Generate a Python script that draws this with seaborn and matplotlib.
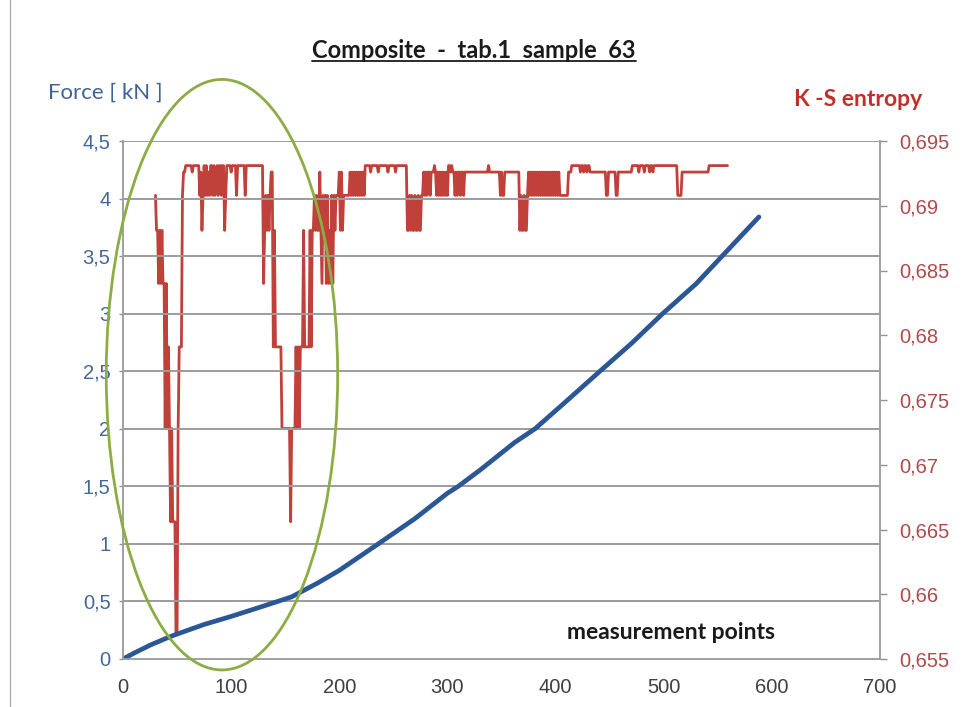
import numpy as np
import pandas as pd
import matplotlib
matplotlib.use("Agg")
import matplotlib.pyplot as plt
from matplotlib.patches import Ellipse
from matplotlib.lines import Line2D
import seaborn as sns

# ---------------- data ----------------
title = "Composite  -  tab.1  sample  63"
force_label = "Force [ kN ]"
entropy_label = "K -S entropy"
xlabel_text = "measurement points"

x_ticks = [0, 100, 200, 300, 400, 500, 600, 700]
force_ticks = [0, 0.5, 1, 1.5, 2, 2.5, 3, 3.5, 4, 4.5]
force_tick_labels = ["0", "0,5", "1", "1,5", "2", "2,5", "3", "3,5", "4", "4,5"]
entropy_ticks = [0.655, 0.66, 0.665, 0.67, 0.675, 0.68, 0.685, 0.69, 0.695]
entropy_tick_labels = ["0,655", "0,66", "0,665", "0,67", "0,675", "0,68", "0,685", "0,69", "0,695"]

# Force curve (measurement point, kN)
force_x = [0, 10, 25, 40, 48, 75, 100, 130, 156, 164, 180, 200, 236, 270, 300, 310,
           330, 362, 381, 410, 441, 470, 499, 530, 554, 588]
force_y = [0, 0.05, 0.12, 0.18, 0.21, 0.30, 0.37, 0.46, 0.54, 0.58, 0.66, 0.77, 1.0, 1.22,
           1.44, 1.50, 1.64, 1.88, 2.0, 2.24, 2.5, 2.74, 3.0, 3.26, 3.5, 3.84]

# K-S entropy: discrete levels and the run-length sequence
ks_start = 30
ks_level_values = {"H": 0.6931, "h": 0.6926, "B": 0.6908, "M": 0.6881,
                   "L1": 0.6840, "L2": 0.6791, "L3": 0.6728, "L4": 0.6656, "L5": 0.6569}

def alt(a, b, n):
    out = []
    for i in range(n):
        out.append((a if i % 2 == 0 else b, 1))
    return out

def seq(s):
    return [(t, 1) for t in s.split()]

ks_runs_first_dip = [("B", 1), ("M", 2), ("L1", 1), ("M", 1), ("L1", 1), ("M", 1), ("L1", 2),
                     ("L3", 1), ("L1", 1), ("L3", 1), ("L2", 1), ("L3", 1),
                     ("L4", 1), ("L3", 1), ("L4", 2), ("L4", 1), ("L5", 2), ("L3", 1),
                     ("L2", 3), ("B", 1), ("h", 2)]
ks_runs_top1 = ([("H", 6), ("h", 1), ("H", 6), ("B", 1), ("h", 1), ("M", 1), ("B", 1), ("H", 1), ("B", 1)]
                + seq("H B h B H H B H B h H B H H B")
                + [("H", 2), ("M", 1), ("B", 1), ("H", 4), ("h", 1), ("H", 4), ("B", 1), ("H", 7),
                   ("B", 1), ("H", 16)])
ks_runs_second_dip = ([("L1", 1)] + seq("M B M B M B") + [("h", 2), ("L2", 1), ("M", 1), ("L2", 6),
                      ("L3", 8), ("L4", 1), ("L3", 4), ("L2", 1), ("L3", 1), ("L2", 1), ("L3", 1),
                      ("L2", 3), ("M", 1), ("L2", 5), ("M", 1), ("L2", 1), ("M", 2), ("B", 1),
                      ("M", 1), ("B", 1), ("M", 2), ("h", 1), ("M", 1), ("L1", 1), ("B", 1), ("M", 1)]
                      + seq("B L1 B L1 M L1 B L1 B M")
                      + [("B", 3), ("h", 1), ("M", 1), ("h", 1), ("M", 1), ("B", 6)]
                      + alt("h", "B", 14))
ks_runs_rest = ([("H", 5), ("h", 1), ("H", 6), ("h", 1), ("H", 8), ("h", 1), ("H", 6), ("h", 1), ("H", 10)]
                + seq("M M B M B M M B M M B M M B")
                + seq("B h B h B h h B h h h H h B")
                + seq("h B h B h B h B h B")
                + seq("H H h H h h")
                + seq("B h B h h B h h B h h h")
                + [("h", 19), ("H", 1), ("h", 10)]
                + seq("B h B B")
                + [("h", 14)]
                + seq("M B M M B M M B")
                + alt("h", "B", 30)
                + [("B", 7), ("h", 3), ("H", 8)]
                + seq("h H H h H H h H H")
                + [("h", 15), ("B", 2), ("h", 7), ("B", 2), ("h", 13),
                   ("H", 6), ("h", 1), ("H", 4), ("h", 1), ("H", 4),
                   ("h", 1), ("H", 2), ("h", 1), ("H", 6), ("H", 16),
                   ("B", 4), ("h", 25), ("H", 18)])

ks_runs = ks_runs_first_dip + ks_runs_top1 + ks_runs_second_dip + ks_runs_rest
ks_values = np.repeat([ks_level_values[k] for k, _ in ks_runs], [n for _, n in ks_runs])
ks_x = ks_start + np.arange(len(ks_values))

force_df = pd.DataFrame({"point": force_x, "force": force_y})
ks_df = pd.DataFrame({"point": ks_x, "entropy": ks_values})

# ---------------- styling ----------------
sns.set_theme(style="white")
plt.rcParams["font.family"] = ["Liberation Sans", "DejaVu Sans"]

W, H = 980, 707
fig = plt.figure(figsize=(W / 100, H / 100), dpi=100)
fig.patch.set_facecolor("white")
L, R, T, B_ = 123, 880, 141, 659
ax = fig.add_axes([L / W, 1 - B_ / H, (R - L) / W, (B_ - T) / H])
ax2 = ax.twinx()

grid_col = "#9c9c9c"
blue = "#2b5797"
red = "#c0403a"

sns.lineplot(data=ks_df, x="point", y="entropy", ax=ax2, color=red, linewidth=2.0,
             estimator=None, errorbar=None)
sns.lineplot(data=force_df, x="point", y="force", ax=ax, color=blue, linewidth=3.4,
             estimator=None, errorbar=None)
ax.set_zorder(ax2.get_zorder() + 1)
ax.patch.set_visible(False)

ax.set_xlim(0, 700)
ax.set_ylim(0, 4.5)
ax2.set_ylim(0.655, 0.695)

ax.set_xticks(x_ticks)
ax.set_xticklabels([str(v) for v in x_ticks], fontsize=14.5, color="#404040")
ax.set_yticks(force_ticks)
ax.set_yticklabels(force_tick_labels, fontsize=14.5, color="#44679b")
ax2.set_yticks(entropy_ticks)
ax2.set_yticklabels(entropy_tick_labels, fontsize=14.5, color="#b04a4a")

for a in (ax, ax2):
    a.set_xlabel("")
    a.set_ylabel("")
    for s in a.spines.values():
        s.set_color("#a0a0a0")
        s.set_linewidth(1.2)
    a.spines["top"].set_visible(False)

ax.tick_params(axis="x", direction="out", length=5, width=1, color="#909090", pad=9)
ax.tick_params(axis="y", direction="out", length=3, width=1, color="#909090", pad=6)
ax2.tick_params(axis="y", direction="out", length=5, width=1, color="#909090", pad=9)

for yv in force_ticks[1:]:
    ax.axhline(yv, color=grid_col, linewidth=1.4, zorder=0)

# green ellipse highlighting the two dips
ell = Ellipse((91.5, 2.47), width=214, height=5.13, fill=False, edgecolor="#8cac44",
              linewidth=2.0, clip_on=False, zorder=5)
ax.add_patch(ell)

ax.text(507, 0.23, xlabel_text, fontsize=16.5, fontweight="bold", color="#1a1a1a",
        ha="center", va="center", family=["Lato", "DejaVu Sans"])

t = fig.text(474 / W, 1 - 50 / H, title, fontsize=17, fontweight="bold", color="#1a1a1a",
             ha="center", va="center", family=["Lato", "DejaVu Sans"])
fig.text(105 / W, 1 - 93 / H, force_label, fontsize=16, color="#3e6496",
         ha="center", va="center", family=["Lato", "DejaVu Sans"])
fig.text(858 / W, 1 - 100 / H, entropy_label, fontsize=16.5, fontweight="bold", color="#c0302a",
         ha="center", va="center", family=["Lato", "DejaVu Sans"])

fig.canvas.draw()
bb = t.get_window_extent(renderer=fig.canvas.get_renderer())
uy = bb.y0 + 1
fig.add_artist(Line2D([bb.x0 / W, bb.x1 / W], [uy / H, uy / H], color="#1a1a1a",
                      linewidth=1.3, transform=fig.transFigure))
fig.add_artist(Line2D([10 / W, 10 / W], [0, 1], color="#b0b0b0", linewidth=1.0,
                      transform=fig.transFigure))

fig.savefig("out.png", dpi=100, facecolor="white")
